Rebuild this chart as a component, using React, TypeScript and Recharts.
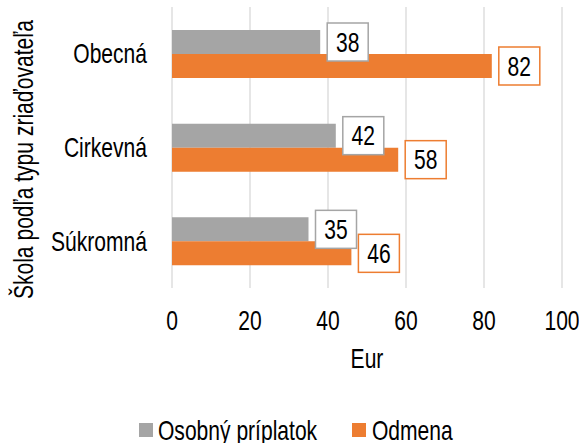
import React from 'react';
import { BarChart, Bar, XAxis, YAxis, CartesianGrid, LabelList, Legend } from 'recharts';

const categories = ['Obecná', 'Cirkevná', 'Súkromná'];
const osobnyPriplatok = [38, 42, 35];
const odmena = [82, 58, 46];
const xTicks = [0, 20, 40, 60, 80, 100];
const seriesNames = ['Osobný príplatok', 'Odmena'];
const xAxisTitle = 'Eur';
const yAxisTitle = 'Škola podľa typu zriaďovateľa';

const data = categories.map((c, i) => ({ name: c, osobny: osobnyPriplatok[i], odmena: odmena[i] }));

const FONT = "'Liberation Sans', Arial, sans-serif";
const FS = 27;
const SX = 0.78; // horizontal condensing to mimic Arial Narrow
const CAP = 0.358 * FS; // half cap height, to centre digits/caps on a y
const GRAY = '#a5a5a5';
const ORANGE = '#ed7d31';
const TEXT = '#000000';
const BOX_W = 41;
const BOX_H = 38;
const BOX_GAP = 7;

const NText = ({ x, y, anchor = 'start', rotate = 0, children }: any) => (
  <text
    transform={`translate(${x},${y}) rotate(${rotate}) scale(${SX},1)`}
    x={0}
    y={0}
    textAnchor={anchor}
    fontFamily={FONT}
    fontSize={FS}
    fill={TEXT}
  >
    {children}
  </text>
);

const Box = ({ x, cy, color, value }: { x: number; cy: number; color: string; value: string | number }) => (
  <g>
    <rect x={x} y={cy - BOX_H / 2} width={BOX_W} height={BOX_H} fill="#ffffff" stroke={color} strokeWidth={1.5} />
    <NText x={x + BOX_W / 2} y={cy + CAP} anchor="middle">{value}</NText>
  </g>
);

const orangeLabel = (props: any) => {
  const { x, y, width, height, value } = props;
  return <Box x={x + width + BOX_GAP} cy={y + height / 2} color={ORANGE} value={value} />;
};

// Gray labels drawn from the orange bar layer so they sit above the orange bars
const grayLabel = (props: any) => {
  const { x, y, width, height, value } = props;
  const [g, o] = String(value).split('|').map(Number);
  const grayEnd = x + (width * g) / o;
  return <Box x={grayEnd + BOX_GAP} cy={y - height / 2} color={GRAY} value={g} />;
};

const XTick = (props: any) => {
  const { x, y, payload } = props;
  return <NText x={x} y={y + 36} anchor="middle">{payload.value}</NText>;
};

const YTick = (props: any) => {
  const { x, y, payload } = props;
  return <NText x={x} y={y + CAP} anchor="end">{payload.value}</NText>;
};

const LegendContent = () => (
  <svg width={579} height={24} style={{ display: 'block' }}>
    <rect x={139} y={4} width={14} height={14} fill={GRAY} />
    <NText x={158} y={21}>{seriesNames[0]}</NText>
    <rect x={352} y={4} width={14} height={14} fill={ORANGE} />
    <NText x={372} y={21}>{seriesNames[1]}</NText>
  </svg>
);

const YTitle = (props: any) => {
  const vb = props.viewBox || {};
  const cy = (vb.y ?? 0) + (vb.height ?? 0) / 2 + 12;
  return <NText x={33} y={cy} anchor="middle" rotate={-90}>{yAxisTitle}</NText>;
};

const XTitle = (props: any) => {
  const vb = props.viewBox || {};
  const cx = (vb.x ?? 0) + (vb.width ?? 0) / 2;
  const cy = (vb.y ?? 0) + 70;
  return <NText x={cx} y={cy + CAP} anchor="middle">{xAxisTitle}</NText>;
};

export default function App() {
  return (
    <div style={{ position: 'absolute', left: 0, top: 0, background: '#fff' }}>
      <BarChart
        width={579}
        height={443}
        data={data}
        layout="vertical"
        margin={{ top: 7, right: 17, left: 0, bottom: 0 }}
        barGap={0}
        barSize={24}
      >
        <CartesianGrid horizontal={false} stroke="#d9d9d9" strokeWidth={1.3} />
        <XAxis
          type="number"
          domain={[0, 100]}
          ticks={xTicks}
          axisLine={false}
          tickLine={false}
          height={131}
          tickMargin={0}
          tick={<XTick />}
          label={<XTitle />}
        />
        <YAxis
          type="category"
          dataKey="name"
          width={172}
          axisLine={false}
          tickLine={false}
          tickMargin={19}
          tick={<YTick />}
          label={<YTitle />}
        />
        <Legend verticalAlign="bottom" content={<LegendContent />} />
        <Bar dataKey="osobny" name={seriesNames[0]} fill={GRAY} isAnimationActive={false} />
        <Bar dataKey="odmena" name={seriesNames[1]} fill={ORANGE} isAnimationActive={false}>
          <LabelList dataKey="odmena" content={orangeLabel} />
          <LabelList dataKey={(d: any) => `${d.osobny}|${d.odmena}`} content={grayLabel} />
        </Bar>
      </BarChart>
    </div>
  );
}
